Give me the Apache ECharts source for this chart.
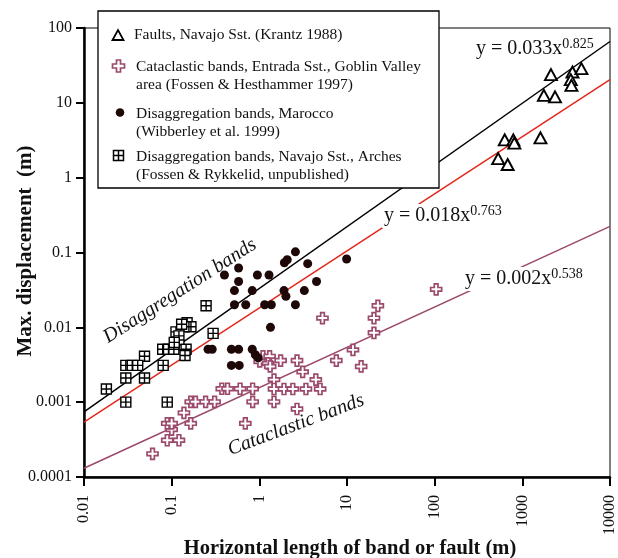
<!DOCTYPE html>
<html>
<head>
<meta charset="utf-8">
<script src="https://cdn.jsdelivr.net/npm/echarts@6/dist/echarts.min.js"></script>
<style>html,body{margin:0;padding:0;background:#fff}#c{width:618px;height:558px}</style>
</head>
<body>
<div id="c"></div>
<script>
// ---- data ----
const faultsX = [2120, 3730, 4720, 3570, 3630, 1760, 2360, 630, 790, 810, 1610, 530, 680];
const faultsY = [23.8, 25.8, 28.6, 20.4, 17.1, 12.6, 12.0, 3.2, 3.2, 2.9, 3.4, 1.8, 1.5];

const cataX = [0.0605, 0.089, 0.121, 0.100, 0.089, 0.100, 0.138, 0.165, 0.165, 0.187,
  0.244, 0.309, 0.373, 0.434, 0.603, 0.839, 0.839, 0.692, 1.47, 1.47,
  1.47, 1.91, 2.41, 3.40, 4.94, 4.41, 2.69, 3.12, 1.10, 1.31,
  1.01, 1.26, 1.33, 1.75, 2.69, 5.25, 7.55, 11.7, 14.5, 20.3,
  20.3, 22.5, 104];
const cataY = [0.000204, 0.00031, 0.00031, 0.00043, 0.00052, 0.00052, 0.00072, 0.00052, 0.00101, 0.00101,
  0.00101, 0.00101, 0.00151, 0.00151, 0.00151, 0.00151, 0.00101, 0.00052, 0.0020, 0.0015,
  0.00101, 0.0015, 0.0015, 0.0015, 0.0015, 0.0020, 0.00081, 0.00254, 0.0041, 0.0041,
  0.0035, 0.0033, 0.0030, 0.0036, 0.0036, 0.0133, 0.0036, 0.0050, 0.0030, 0.00845,
  0.0133, 0.0194, 0.0322];

const moroccoX = [0.40, 0.58, 0.58, 0.52, 0.52, 0.70, 0.83, 0.95, 1.29, 1.15,
  1.37, 1.34, 1.93, 2.08, 2.58, 3.56, 1.91, 2.01, 2.58, 3.26,
  4.49, 9.9, 0.26, 0.29, 0.48, 0.58, 0.83, 0.90, 0.97, 0.48, 0.59];
const moroccoY = [0.050, 0.062, 0.041, 0.031, 0.020, 0.020, 0.031, 0.050, 0.050, 0.020,
  0.020, 0.010, 0.073, 0.080, 0.102, 0.071, 0.031, 0.026, 0.020, 0.031,
  0.041, 0.082, 0.0051, 0.0051, 0.0051, 0.0051, 0.0051, 0.0043, 0.0039, 0.0031, 0.0031];

const navajoX = [0.247, 0.297, 0.150, 0.166, 0.138, 0.112, 0.121, 0.121, 0.079, 0.092,
  0.106, 0.146, 0.142, 0.049, 0.080, 0.030, 0.0355, 0.041, 0.030, 0.049,
  0.018, 0.030, 0.089, 0.130, 0.107];
const navajoY = [0.0194, 0.0083, 0.0115, 0.0102, 0.0102, 0.0087, 0.0077, 0.0058, 0.0051, 0.0051,
  0.0051, 0.0051, 0.0042, 0.0041, 0.0031, 0.0031, 0.0031, 0.0031, 0.0021, 0.0021,
  0.0015, 0.0010, 0.0010, 0.0110, 0.0063];

// fitted lines (end points)
const fitX = [0.01, 10000];
const fitBlackY = [0.00074, 66];
const fitRedY = [0.00054, 20.4];
const fitPurpleY = [0.000131, 0.223];

const xTickLabels = ['0.01', '0.1', '1', '10', '100', '1000', '10000'];
const yTickLabels = ['0.0001', '0.001', '0.01', '0.1', '1', '10', '100'];

const legendTexts = [
  'Faults, Navajo Sst. (Krantz 1988)',
  'Cataclastic bands, Entrada Sst., Goblin Valley',
  'area (Fossen & Hesthammer 1997)',
  'Disaggregation bands, Marocco',
  '(Wibberley et al. 1999)',
  'Disaggregation bands, Navajo Sst., Arches',
  '(Fossen & Rykkelid, unpublished)'
];

// ---- build ----
const zip = (a, b) => a.map((v, i) => [v, b[i]]);
const FONT = 'Liberation Serif';
const crossColor = '#9b4a6c';
const redColor = '#e3281b';
const dotColor = '#1e0707';
const crossPath = 'path://M4,0H8V4H12V8H8V12H4V8H0V4H4Z';
const sqPath = 'path://M0,0H10V10H0Z M5,0V10 M0,5H10';

const chart = echarts.init(document.getElementById('c'), null, {renderer: 'canvas'});

const legendLineY = [35, 67, 85, 113.5, 131.5, 156.5, 175];
const legendGraphics = [
  {type: 'rect', z: 100, shape: {x: 98, y: 11, width: 341, height: 177},
   style: {fill: '#fff', stroke: '#000', lineWidth: 1.3}},
  {type: 'polygon', z: 101, shape: {points: [[112.5, 40], [123.5, 40], [118, 30]]},
   style: {fill: '#fff', stroke: '#000', lineWidth: 1.8}},
  {type: 'polygon', z: 101, shape: {points: [[116.5, 60], [120.5, 60], [120.5, 64], [124.5, 64], [124.5, 68], [120.5, 68], [120.5, 72], [116.5, 72], [116.5, 68], [112.5, 68], [112.5, 64], [116.5, 64]]},
   style: {fill: '#fff', stroke: crossColor, lineWidth: 1.7}},
  {type: 'circle', z: 101, shape: {cx: 120, cy: 112.5, r: 4.3}, style: {fill: dotColor}},
  {type: 'rect', z: 101, shape: {x: 113.5, y: 150.5, width: 10, height: 10}, style: {fill: '#fff', stroke: '#000', lineWidth: 1.5}},
  {type: 'line', z: 101, shape: {x1: 118.5, y1: 150.5, x2: 118.5, y2: 160.5}, style: {stroke: '#000', lineWidth: 1.5}},
  {type: 'line', z: 101, shape: {x1: 113.5, y1: 155.5, x2: 123.5, y2: 155.5}, style: {stroke: '#000', lineWidth: 1.5}}
];
legendTexts.forEach((t, i) => {
  legendGraphics.push({type: 'text', z: 101, x: i === 0 ? 134 : 136, y: legendLineY[i],
    style: {text: t, fontFamily: FONT, fontSize: 15.5, fill: '#111', textAlign: 'left', textVerticalAlign: 'middle'}});
});

function eqText(x, y, main, sup, bg) {
  return {type: 'text', z: 90, x: x, y: y,
    style: {text: '{a|' + main + '}{b|' + sup + '}', textAlign: 'left', textVerticalAlign: 'middle',
      backgroundColor: bg ? '#fff' : 'transparent', padding: [0, 2, 0, 2],
      rich: {a: {fontFamily: FONT, fontSize: 20, fill: '#111', lineHeight: 24},
             b: {fontFamily: FONT, fontSize: 14, fill: '#111', verticalAlign: 'top', lineHeight: 12}}}};
}

const option = {
  animation: false,
  backgroundColor: '#fff',
  grid: {left: 84, right: 2, top: 28, bottom: 81, show: true, borderColor: '#000', borderWidth: 1},
  xAxis: {
    type: 'log', logBase: 10, min: 0.01, max: 10000,
    axisLine: {lineStyle: {color: '#000', width: 2.5}},
    axisTick: {show: true, length: 9, lineStyle: {color: '#000', width: 2}},
    minorTick: {show: false},
    splitLine: {show: false},
    axisLabel: {rotate: 90, margin: 18, fontFamily: FONT, fontSize: 16, color: '#111',
      formatter: v => xTickLabels[Math.round(Math.log10(v)) + 2]}
  },
  yAxis: {
    type: 'log', logBase: 10, min: 0.0001, max: 100,
    axisLine: {lineStyle: {color: '#000', width: 2.5}},
    axisTick: {show: true, length: 8, lineStyle: {color: '#000', width: 2}},
    minorTick: {show: false},
    splitLine: {show: false},
    axisLabel: {margin: 12, fontFamily: FONT, fontSize: 16, color: '#111',
      formatter: v => yTickLabels[Math.round(Math.log10(v)) + 4]}
  },
  series: [
    {type: 'line', data: zip(fitX, fitBlackY), symbol: 'none', lineStyle: {color: '#000', width: 1.5}, z: 1},
    {type: 'line', data: zip(fitX, fitRedY), symbol: 'none', lineStyle: {color: redColor, width: 1.5}, z: 1},
    {type: 'line', data: zip(fitX, fitPurpleY), symbol: 'none', lineStyle: {color: crossColor, width: 1.5}, z: 1},
    {name: 'Faults', type: 'scatter', data: zip(faultsX, faultsY), symbol: 'triangle', symbolSize: [12, 11],
     itemStyle: {color: '#fff', borderColor: '#000', borderWidth: 1.9, opacity: 1}, z: 3},
    {name: 'Cataclastic', type: 'scatter', data: zip(cataX, cataY), symbol: crossPath, symbolSize: 11,
     itemStyle: {color: '#fff', borderColor: crossColor, borderWidth: 1.7, opacity: 1}, z: 3},
    {name: 'Navajo', type: 'scatter', data: zip(navajoX, navajoY), symbol: sqPath, symbolSize: 10,
     itemStyle: {color: '#fff', borderColor: '#000', borderWidth: 1.4, opacity: 1}, z: 3},
    {name: 'Marocco', type: 'scatter', data: zip(moroccoX, moroccoY), symbol: 'circle', symbolSize: 9,
     itemStyle: {color: dotColor, opacity: 1}, z: 4}
  ],
  graphic: [
    ...legendGraphics,
    eqText(474, 49, 'y = 0.033x', '0.825', false),
    eqText(382, 216, 'y = 0.018x', '0.763', true),
    eqText(463, 279, 'y = 0.002x', '0.538', true),
    {type: 'text', z: 90, x: 180, y: 291, rotation: 0.57,
     style: {text: 'Disaggregation bands', fontFamily: FONT, fontStyle: 'italic', fontSize: 20, fill: '#111', textAlign: 'center', textVerticalAlign: 'middle'}},
    {type: 'text', z: 90, x: 296, y: 425, rotation: 0.36,
     style: {text: 'Cataclastic bands', fontFamily: FONT, fontStyle: 'italic', fontSize: 20, fill: '#111', textAlign: 'center', textVerticalAlign: 'middle'}},
    {type: 'text', z: 90, x: 26, y: 251, rotation: Math.PI / 2,
     style: {text: 'Max. displacement  (m)', fontFamily: FONT, fontWeight: 'bold', fontSize: 21, fill: '#111', textAlign: 'center', textVerticalAlign: 'middle'}},
    {type: 'text', z: 90, x: 350, y: 549,
     style: {text: 'Horizontal length of band or fault (m)', fontFamily: FONT, fontWeight: 'bold', fontSize: 20.5, fill: '#111', textAlign: 'center', textVerticalAlign: 'middle'}}
  ]
};
chart.setOption(option);
</script>
</body>
</html>
